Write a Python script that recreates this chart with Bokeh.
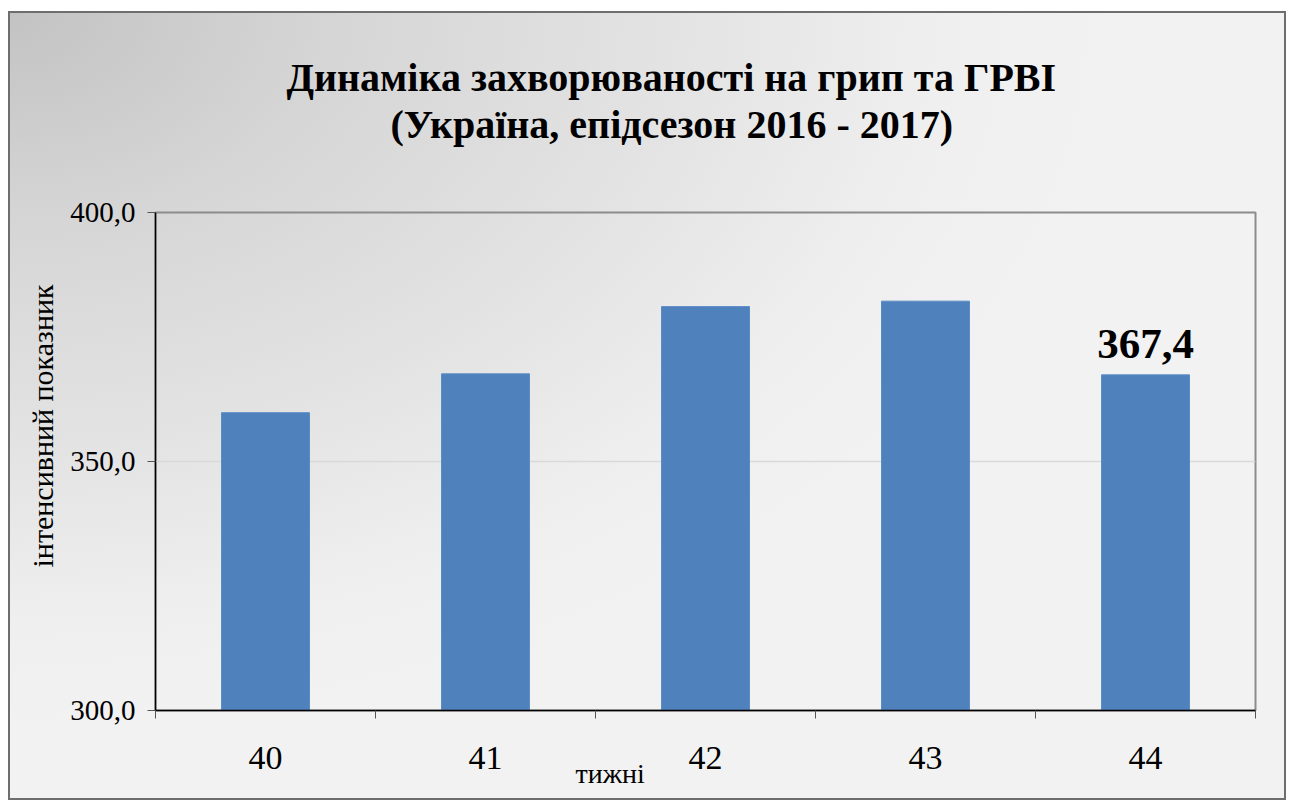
from bokeh.plotting import figure
from bokeh.models import Range1d, FixedTicker, Label, Title
from bokeh.embed import file_html
from bokeh.resources import INLINE

# ---- data ----
weeks = ["40", "41", "42", "43", "44"]
values = [359.8, 367.6, 381.1, 382.2, 367.4]
y_ticks = [300, 350, 400]
title_lines = ["Динаміка захворюваності на грип та ГРВІ", "(Україна, епідсезон 2016 - 2017)"]
y_title = "інтенсивний показник"
x_title = "тижні"

SERIF = "Liberation Serif"
W, H = 1278, 789
ML, MR, MT, MB = 145, 33, 199, 92

p = figure(width=W, height=H, output_backend="svg", toolbar_location=None,
           x_range=Range1d(0, len(weeks)), y_range=Range1d(300, 400),
           min_border_left=ML, min_border_right=MR, min_border_top=MT, min_border_bottom=MB)
p.title.visible = False
p.styles = {"background": "radial-gradient(ellipse 1100px 720px at 0px 0px, #c3c3c3 0%, #d6d6d6 30%, #e3e3e3 60%, #efefef 85%, #f2f2f2 100%)",
            "border": "2px solid #6e6e6e", "box-sizing": "border-box", "margin": "11px 0 0 8px"}
p.border_fill_alpha = 0
p.background_fill_alpha = 0
p.outline_line_color = "#8c8c8c"
p.outline_line_width = 2

xs = [i + 0.5 for i in range(len(weeks))]
p.vbar(x=xs, top=values, bottom=300, width=0.4, fill_color="#4f81bd", line_color="#5b8cc6")

# grid
p.xgrid.grid_line_color = None
p.ygrid.ticker = FixedTicker(ticks=y_ticks)
p.ygrid.grid_line_color = "#d9d9d9"
p.ygrid.grid_line_width = 1.5

# y axis
p.yaxis.ticker = FixedTicker(ticks=y_ticks)
p.yaxis.major_label_overrides = {t: f"{t:.1f}".replace(".", ",") for t in y_ticks}
p.yaxis.axis_line_color = "black"
p.yaxis.axis_line_width = 1.5
p.yaxis.major_tick_line_color = "#555555"
p.yaxis.major_tick_out = 8
p.yaxis.major_tick_in = 0
p.yaxis.minor_tick_line_color = None
p.yaxis.major_label_text_font = SERIF
p.yaxis.major_label_text_font_size = "29px"
p.yaxis.major_label_text_color = "black"
p.yaxis.major_label_standoff = 12

# x axis
p.xaxis.ticker = FixedTicker(ticks=xs, minor_ticks=list(range(len(weeks) + 1)))
p.xaxis.major_label_overrides = {x: w for x, w in zip(xs, weeks)}
p.xaxis.axis_line_color = "black"
p.xaxis.axis_line_width = 1.5
p.xaxis.major_tick_line_color = None
p.xaxis.minor_tick_line_color = "#555555"
p.xaxis.minor_tick_out = 8
p.xaxis.minor_tick_in = 0
p.xaxis.major_label_text_font = SERIF
p.xaxis.major_label_text_font_size = "34px"
p.xaxis.major_label_text_color = "black"
p.xaxis.major_label_standoff = 28

def title(s, side, size, offset, standoff, bold=False):
    p.add_layout(Title(text=s, align="left", offset=offset, standoff=standoff, text_font=SERIF,
                       text_font_style="bold" if bold else "normal", text_font_size=size,
                       text_color="black"), side)

# spacer between frame and title block
title(" ", "above", "1px", 0, 63)
# titles (second line added first: nearest the frame)
title(title_lines[1], "above", "40px", 235, 0, bold=True)
title(title_lines[0], "above", "40px", 131, 0, bold=True)
# axis titles
title(y_title, "left", "30px", 143, 18)
title(x_title, "below", "28px", 420, -31)

# data label on last bar
p.add_layout(Label(x=xs[-1], y=values[-1], y_offset=17, text=f"{values[-1]:.1f}".replace(".", ","),
                   text_font=SERIF, text_font_style="bold", text_font_size="43px",
                   text_align="center", text_baseline="bottom", text_color="black"))

open("out.html", "w").write(file_html(p, INLINE))
